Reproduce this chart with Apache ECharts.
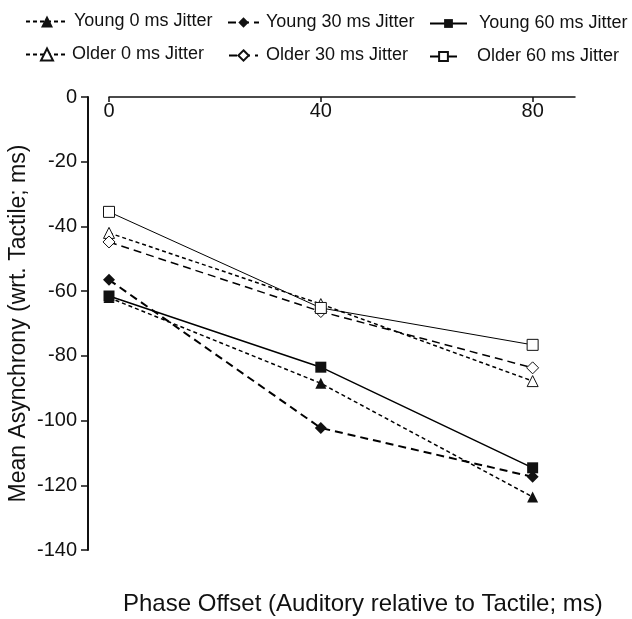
<!DOCTYPE html>
<html>
<head>
<meta charset="utf-8">
<script src="https://cdn.jsdelivr.net/npm/echarts@6/dist/echarts.min.js"></script>
<style>
  html, body { margin: 0; padding: 0; background: #fff; }
  #chart { width: 632px; height: 619px; }
</style>
</head>
<body>
<div id="chart"></div>
<script>
const phaseOffsets = [0, 40, 80]
const xTicks = [0, 40, 80]

const young0 = [-62, -88.5, -123.6]
const young30 = [-56.5, -102.3, -117.4]
const young60 = [-61.5, -83.5, -114.6]
const older0 = [-42, -64, -87.8]
const older30 = [-44.8, -66.3, -83.7]
const older60 = [-35.5, -65.2, -76.6]

const chart = echarts.init(document.getElementById('chart'))
const font = 'Liberation Sans, Arial, sans-serif'

const pairs = (vals) => phaseOffsets.map((x, i) => [x, vals[i]])

// one series per group; open symbols have white fill
const makeSeries = (name, vals, symbol, filled, dash, width, z) => ({
  name,
  type: 'line',
  data: pairs(vals),
  symbol,
  symbolSize: symbol === 'diamond' ? 12 : 11,
  z,
  lineStyle: { color: '#000', width, type: dash },
  itemStyle: {
    color: filled ? '#111' : '#fff',
    borderColor: '#111',
    borderWidth: filled ? 0 : 1
  },
  emphasis: { disabled: true }
})

const series = [
  makeSeries('Young 0 ms Jitter', young0, 'triangle', true, [4, 3], 1.5, 3),
  makeSeries('Young 30 ms Jitter', young30, 'diamond', true, [8, 5], 2, 4),
  makeSeries('Young 60 ms Jitter', young60, 'rect', true, 'solid', 1.5, 5),
  makeSeries('Older 0 ms Jitter', older0, 'triangle', false, [4, 3], 1.5, 3),
  makeSeries('Older 30 ms Jitter', older30, 'diamond', false, [8, 5], 1.5, 4),
  makeSeries('Older 60 ms Jitter', older60, 'rect', false, 'solid', 1, 5)
]

// separate legends so each item sits where it does in the figure
// cy = vertical centre of the icon, pad = extra space before the text
const legendPos = [
  { name: 'Young 0 ms Jitter', left: 25, cy: 20, w: 42, h: 15, pad: 1, drop: 0 },
  { name: 'Young 30 ms Jitter', left: 227, cy: 20, w: 31, h: 13, pad: 2, drop: 0 },
  { name: 'Young 60 ms Jitter', left: 429, cy: 20, w: 37, h: 11, pad: 7, drop: 0 },
  { name: 'Older 0 ms Jitter', left: 25, cy: 53, w: 42, h: 15, pad: -1, drop: 0 },
  { name: 'Older 30 ms Jitter', left: 228, cy: 53, w: 29, h: 13, pad: 3, drop: 0 },
  { name: 'Older 60 ms Jitter', left: 429, cy: 53, w: 27, h: 11, pad: 15, drop: 10 }
]

const legend = legendPos.map(p => ({
  data: [p.name],
  left: p.left,
  top: p.cy - p.h / 2,
  padding: 0,
  itemWidth: p.w,
  itemHeight: p.h,
  selectedMode: false,
  textStyle: {
    fontFamily: font,
    fontSize: 18,
    color: '#111',
    padding: [p.drop, 0, 0, p.pad]
  }
}))

const option = {
  backgroundColor: '#fff',
  animation: false,
  legend,
  grid: { left: 109, right: 57, top: 97, bottom: 69, outerBoundsMode: 'none' },
  xAxis: {
    type: 'value',
    position: 'top',
    min: 0,
    max: 88,
    splitLine: { show: false },
    axisLine: { onZero: false, lineStyle: { color: '#111', width: 1.5 } },
    axisTick: { inside: true, length: 5, customValues: xTicks, lineStyle: { color: '#111', width: 1.5 } },
    axisLabel: { inside: true, margin: 4, customValues: xTicks, color: '#111', fontFamily: font, fontSize: 20 }
  },
  yAxis: {
    type: 'value',
    min: -140,
    max: 0,
    interval: 20,
    offset: 21,
    name: 'Mean Asynchrony (wrt. Tactile; ms)',
    nameLocation: 'middle',
    nameGap: 58,
    nameMoveOverlap: false,
    nameTextStyle: { fontFamily: font, fontSize: 23, color: '#111' },
    splitLine: { show: false },
    axisLine: { show: true, onZero: false, lineStyle: { color: '#111', width: 2 } },
    axisTick: { show: true, length: 7, lineStyle: { color: '#111', width: 1.5 } },
    axisLabel: { margin: 11, color: '#111', fontFamily: font, fontSize: 20 }
  },
  graphic: [{
    type: 'text',
    left: 123,
    top: 592,
    style: {
      text: 'Phase Offset (Auditory relative to Tactile; ms)',
      fontFamily: font,
      fontSize: 24,
      fill: '#111'
    }
  }],
  series
}

chart.setOption(option)
</script>
</body>
</html>
